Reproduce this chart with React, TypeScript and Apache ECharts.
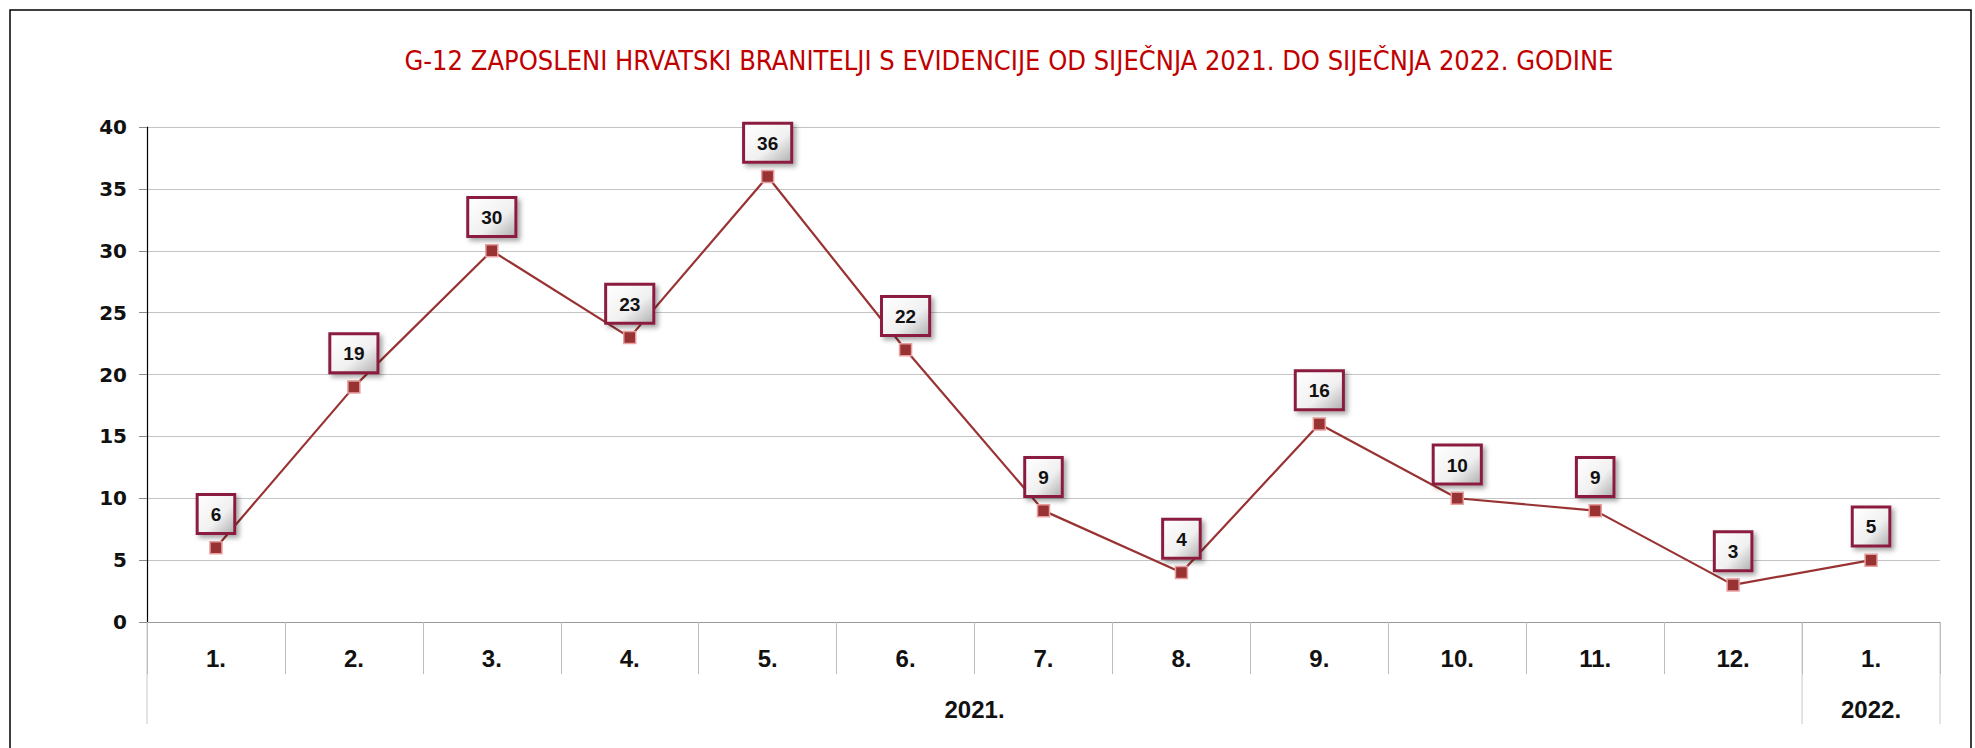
import React, { useEffect, useRef } from "react";
import * as echarts from "echarts";

const TITLE = "G-12 ZAPOSLENI HRVATSKI BRANITELJI S EVIDENCIJE OD SIJEČNJA 2021. DO SIJEČNJA 2022. GODINE";
const months = ["1.", "2.", "3.", "4.", "5.", "6.", "7.", "8.", "9.", "10.", "11.", "12.", "1."];
const values = [6, 19, 30, 23, 36, 22, 9, 4, 16, 10, 9, 3, 5];
const years = ["2021.", "2022."];
const yearSpans = [12, 1];
const yTicks = { min: 0, max: 40, interval: 5 };

export default function App() {
  const ref = useRef<HTMLDivElement>(null);
  useEffect(() => {
    if (!ref.current) return;
    const chart = echarts.init(ref.current, undefined, { renderer: "svg" });
    const gridTop = 127;
    const gridBottom = 126;
    const H = 748;
    const axisY = H - gridBottom;
    chart.setOption({
      animation: false,
      backgroundColor: "#ffffff",
      title: {
        text: TITLE,
        left: 1004,
        textAlign: "center",
        top: 42,
        textStyle: {
          fontFamily: "'DejaVu Sans Condensed', 'Liberation Sans', sans-serif",
          fontSize: 27,
          fontWeight: "normal",
          color: "#C00000",
        },
      },
      grid: { left: 147, right: 35, top: gridTop, bottom: gridBottom },
      xAxis: {
        type: "category",
        data: months,
        boundaryGap: true,
        axisLine: { show: true, lineStyle: { color: "#9a9a9a", width: 1 } },
        axisTick: { show: true, interval: 0, length: 52, lineStyle: { color: "#bdbdbd" } },
        axisLabel: {
          interval: 0,
          margin: 24,
          fontFamily: "'Liberation Sans', Arial, sans-serif",
          fontSize: 24,
          fontWeight: "bold",
          color: "#111111",
        },
        splitLine: { show: false },
      },
      yAxis: {
        type: "value",
        min: yTicks.min,
        max: yTicks.max,
        interval: yTicks.interval,
        axisLine: { show: true, lineStyle: { color: "#000000", width: 1.2 } },
        axisTick: { show: true, inside: false, length: 8, lineStyle: { color: "#8a8a8a" } },
        axisLabel: {
          margin: 20,
          fontFamily: "'DejaVu Sans', sans-serif",
          fontSize: 20,
          fontWeight: "bold",
          color: "#111111",
        },
        splitLine: { show: true, lineStyle: { color: "#c4c4c4", width: 1 } },
      },
      series: [
        {
          type: "line",
          data: values,
          symbol: "rect",
          symbolSize: 12,
          itemStyle: { color: "#993333", borderColor: "#eaa0a0", borderWidth: 1.5 },
          lineStyle: { color: "#993333", width: 2.2 },
          label: {
            show: true,
            position: "top",
            distance: 9,
            fontFamily: "'Liberation Sans', Arial, sans-serif",
            fontSize: 19,
            fontWeight: "bold",
            color: "#111111",
            backgroundColor: new echarts.graphic.LinearGradient(0, 0, 1, 1, [
              { offset: 0, color: "#ffffff" },
              { offset: 0.6, color: "#f0f0f0" },
              { offset: 1, color: "#b4b4b4" },
            ]),
            borderColor: "#8b1f40",
            borderWidth: 3,
            padding: [9, 12, 8, 12],
            shadowBlur: 5,
            shadowColor: "rgba(0,0,0,0.35)",
            shadowOffsetX: 3,
            shadowOffsetY: 3,
          },
        },
      ],
    });

    const c0 = chart.convertToPixel({ xAxisIndex: 0 }, 0) as number;
    const c1 = chart.convertToPixel({ xAxisIndex: 0 }, 1) as number;
    const band = c1 - c0;
    const start = c0 - band / 2;
    const graphics: any[] = [
      {
        type: "rect",
        shape: { x: 10, y: 10, width: 1961, height: 760 },
        style: { fill: "none", stroke: "#000000", lineWidth: 1.5 },
        silent: true,
      },
    ];
    let acc = 0;
    const boundaries = [start];
    years.forEach((y, i) => {
      const x0 = start + acc * band;
      acc += yearSpans[i];
      const x1 = start + acc * band;
      boundaries.push(x1);
      graphics.push({
        type: "text",
        x: (x0 + x1) / 2,
        y: axisY + 87,
        style: {
          text: y,
          align: "center",
          verticalAlign: "middle",
          fontFamily: "'Liberation Sans', Arial, sans-serif",
          fontSize: 24,
          fontWeight: "bold",
          fill: "#111111",
        },
      });
    });
    boundaries.forEach((bx) => {
      graphics.push({
        type: "line",
        shape: { x1: bx, y1: axisY, x2: bx, y2: axisY + 102 },
        style: { stroke: "#c8c8c8", lineWidth: 1 },
        silent: true,
      });
    });
    chart.setOption({ graphic: graphics });
    return () => chart.dispose();
  }, []);
  return (
    <div
      ref={ref}
      style={{ position: "fixed", left: 0, top: 0, width: 1975, height: 748 }}
    />
  );
}
